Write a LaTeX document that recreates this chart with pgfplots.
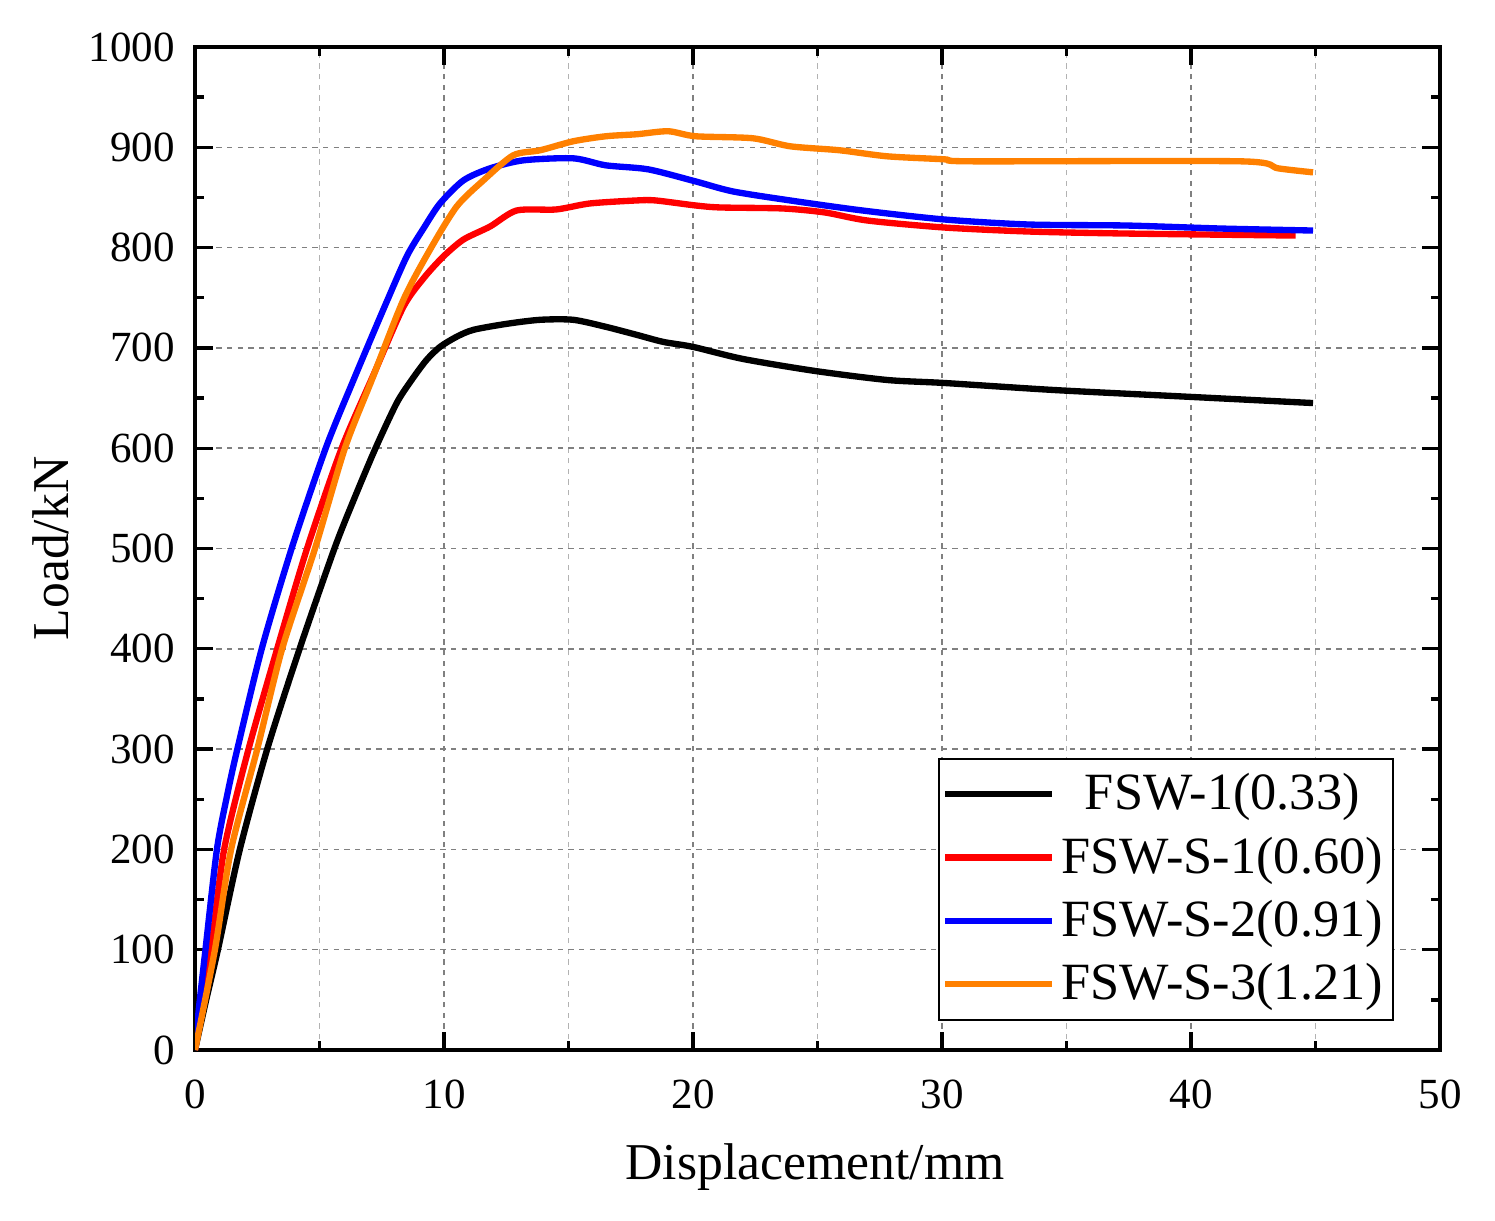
\documentclass[border=0pt]{standalone}
\usepackage{fontspec}
\setmainfont{Liberation Serif}
\usepackage{pgfplots}
\pgfplotsset{compat=1.18}
\definecolor{fsworange}{RGB}{255,128,0}

\begin{document}
\begin{tikzpicture}
\begin{axis}[
    name=ax,
    scale only axis,
    width=373.5pt, height=300.9pt,
    xmin=0, xmax=50, ymin=0, ymax=1000,
    xtick={0,10,...,50}, ytick={0,100,...,1000},
    minor xtick={5,15,...,45},
    minor y tick num=1,
    xmajorgrids, ymajorgrids, xminorgrids,
    major grid style={dash pattern=on 1.6pt off 1.6pt, black!50, line width=0.45pt},
    minor grid style={dash pattern=on 1.6pt off 1.6pt, black!30, line width=0.45pt},
    tick align=inside,
    major tick length=5.4pt, minor tick length=2.7pt,
    every tick/.style={black, line width=1pt},
    axis line style={line width=1.2pt},
    /pgf/number format/assume math mode=true,
    /pgf/number format/1000 sep={},
    tick label style={font=\fontsize{12.9}{15}\selectfont},
    xticklabel style={yshift=-5.5pt},
    yticklabel style={xshift=-2.5pt},
    xlabel={Displacement/mm},
    ylabel={Load/kN},
    label style={font=\fontsize{15.5}{18}\selectfont},
    xlabel style={at={(axis description cs:0.498,-0.129)}, anchor=base},
    ylabel style={at={(axis description cs:-0.102,0.5)}, anchor=base},
    legend style={at={(0.963,0.029)}, anchor=south east,
        draw=black, line width=0.6pt,
        font=\fontsize{15.7}{18}\selectfont,
        inner xsep=1pt, inner ysep=2.5pt, row sep=2.6pt,
        cells={anchor=center}},
    legend image code/.code={\draw[#1] (0pt,0pt) -- (32pt,0pt);},
    every axis plot/.append style={line width=1.9pt, smooth, tension=0.45},
]
\addplot[black] coordinates {
    (0,0) (0.45,50) (0.92,100) (1.8,200) (2.9,300) (4.2,400) (5.6,500)
    (6.4,550) (7.25,600) (8.1,645) (8.7,668) (9.3,688) (9.84,701)
    (10.5,711) (11.18,718) (12.52,724) (13.86,728) (15.19,728) (16.5,721)
    (17.74,713) (18.8,706) (20,701) (22,689) (24.9,677) (27.8,668)
    (30.1,665) (34.5,658) (39.3,652) (44.9,645)
};
\addlegendentry{FSW-1(0.33)}
\addplot[red] coordinates {
    (0,0) (0.3,48) (0.65,100) (1.17,200) (2.15,300) (3.3,400) (4.5,500)
    (5.89,600) (7.2,675) (8.37,741) (9.2,770) (9.97,791) (10.78,808)
    (11.85,821) (12.92,837) (14.5,838) (15.86,844) (17.74,847) (18.5,847)
    (20.1,842) (21.1,840) (23.6,839) (25.3,835) (27.0,827) (30.1,820)
    (33.5,816) (37.4,814) (44.2,812)
};
\addlegendentry{FSW-S-1(0.60)}
\addplot[blue] coordinates {
    (0,0) (0.15,40) (0.42,100) (0.88,200) (1.3,255) (1.7,300) (2.68,400)
    (3.88,500) (5.25,600) (6.4,670) (7.56,738) (8.50,791) (9.2,820)
    (9.84,844) (10.78,867) (11.85,879) (13.19,887) (15.19,889) (16.5,882)
    (18.2,878) (20.1,866) (21.6,856) (23.9,847) (26.8,837) (30.1,828)
    (33.5,823) (37.4,822) (41.2,819) (44.9,817)
};
\addlegendentry{FSW-S-2(0.91)}
\addplot[fsworange] coordinates {
    (0,0) (0.8,100) (1.45,200) (2.5,300) (3.5,400) (4.82,500) (6.02,600)
    (7.10,668) (8.37,748) (9.44,798) (10.51,841) (11.58,867) (12.78,892)
    (13.86,897) (15.19,906) (16.5,911) (17.74,913) (19.0,916) (20.1,911)
    (22.4,909) (23.9,901) (25.9,897) (27.8,891) (30.1,888) (31.2,886)
    (42.0,886) (43.5,879) (44.9,875)
};
\addlegendentry{FSW-S-3(1.21)}
\end{axis}
\pgfresetboundingbox
\path ([shift={(-58.5pt,-51pt)}]ax.south west) rectangle ([shift={(390pt,315pt)}]ax.south west);
\end{tikzpicture}
\end{document}
